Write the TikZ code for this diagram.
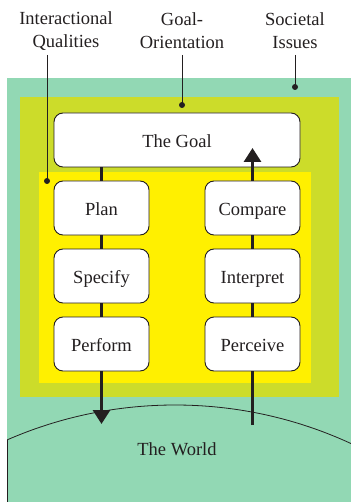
\documentclass[tikz,border=0pt]{standalone}
\usepackage{fontspec}
\setmainfont{Liberation Serif}
\usetikzlibrary{arrows.meta}
\definecolor{mint}{RGB}{146,216,180}
\definecolor{olive}{RGB}{204,220,42}
\definecolor{yell}{RGB}{255,240,0}
\definecolor{ink}{RGB}{35,31,32}
\begin{document}
\begin{tikzpicture}[x=1pt,y=-1pt,
  every node/.style={text=ink,font=\fontsize{18.5}{23}\selectfont},
  stagebox/.style={draw=ink,line width=0.9pt,fill=white,rounded corners=9pt,minimum width=95pt,minimum height=54pt,inner sep=0pt,text height=15pt,text depth=0pt},
  flow/.style={draw=ink,line width=3pt},
  flowarrow/.style={flow,-{Triangle[length=14pt,width=17pt]}},
  leader/.style={draw=ink,line width=0.9pt},
  labeltext/.style={align=center,inner sep=0pt}]
\useasboundingbox (0,0) rectangle (350,502);
% background regions
\fill[mint] (7,78) rectangle (352,504);
\begin{scope}
  \clip (7,0) rectangle (352,504);
  \draw[ink,line width=0.8pt] (175,825) circle[radius=420];
\end{scope}
\draw[ink,line width=0.8pt] (7,440) -- (7,504);
\fill[olive] (20,97) rectangle (339,397);
\fill[yell] (39,172) rectangle (311,383);
% nodes
\node[stagebox,minimum width=246pt] (goal) at (177,140) {The Goal};
\node[stagebox] (plan) at (101.5,208) {Plan};
\node[stagebox] (specify) at (101.5,276) {Specify};
\node[stagebox] (perform) at (101.5,344) {Perform};
\node[stagebox] (compare) at (252.5,208) {Compare};
\node[stagebox] (interpret) at (252.5,276) {Interpret};
\node[stagebox] (perceive) at (252.5,344) {Perceive};
\node (world) at (177,449) {The World};
\coordinate (worldin) at (101.5,424);
\coordinate (worldout) at (252.5,425);
\coordinate (goalin) at (252.5,148);
% flow connectors
\draw[flow] (goal.south -| plan.north) -- (plan.north);
\draw[flow] (plan.south) -- (specify.north);
\draw[flow] (specify.south) -- (perform.north);
\draw[flowarrow] (perform.south) -- (worldin);
\draw[flow] (worldout) -- (perceive.south);
\draw[flow] (perceive.north) -- (interpret.south);
\draw[flow] (interpret.north) -- (compare.south);
\draw[flowarrow] (compare.north) -- (goalin);
% labels
\node[labeltext] (lq) at (66,31) {Interactional\\Qualities};
\node[labeltext] (lg) at (182,31) {Goal-\\Orientation};
\node[labeltext] (ls) at (295,31) {Societal\\Issues};
\coordinate (dq) at (47,181);
\coordinate (dg) at (182,105);
\coordinate (ds) at (295,87);
\draw[leader] (47,55) -- (dq);
\draw[leader] (182,55) -- (dg);
\draw[leader] (295,55) -- (ds);
\fill[ink] (dq) circle[radius=3];
\fill[ink] (dg) circle[radius=3];
\fill[ink] (ds) circle[radius=3];
\end{tikzpicture}
\end{document}
